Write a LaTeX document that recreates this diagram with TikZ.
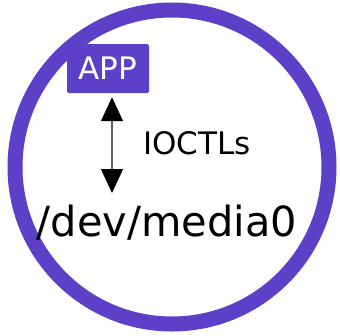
\documentclass[tikz,border=0pt]{standalone}
\usepackage{fontspec}
\setmainfont{DejaVu Sans}
\usetikzlibrary{arrows.meta}
\definecolor{purp}{RGB}{94,64,200}
\tikzset{
  ring/.style={circle, draw=purp, line width=15pt, minimum size=314pt, inner sep=0pt},
  appbox/.style={fill=purp, rounded corners=1.5pt, minimum width=82pt, minimum height=49pt, inner sep=0pt, text=white, font=\fontsize{31}{36}\selectfont, text height=22.5pt, text depth=0pt},
  lbl/.style={inner sep=0pt, anchor=base},
  ioarrow/.style={draw={rgb,255:red,100;green,100;blue,100}, line width=1.5pt, {Triangle[width=22pt,length=24pt,black]}-{Triangle[width=22pt,length=24pt,black]}}
}
\begin{document}
\begin{tikzpicture}[x=1pt,y=-1pt]
\useasboundingbox (0,0) rectangle (340,335);
\node[ring] (circ) at (172,167) {};
\node[appbox] (app) at (108,68.5) {APP};
\node[lbl, font=\fontsize{41.5}{48}\selectfont] (dev) at (167,236) {/dev/media0};
\node[lbl, font=\fontsize{31}{36}\selectfont] (ioctl) at (197,154) {IOCTLs};
\coordinate (ioend) at (112,193);
\draw[ioarrow, shorten <=4pt] (app.south -| ioend) -- (ioend);
\end{tikzpicture}
\end{document}
